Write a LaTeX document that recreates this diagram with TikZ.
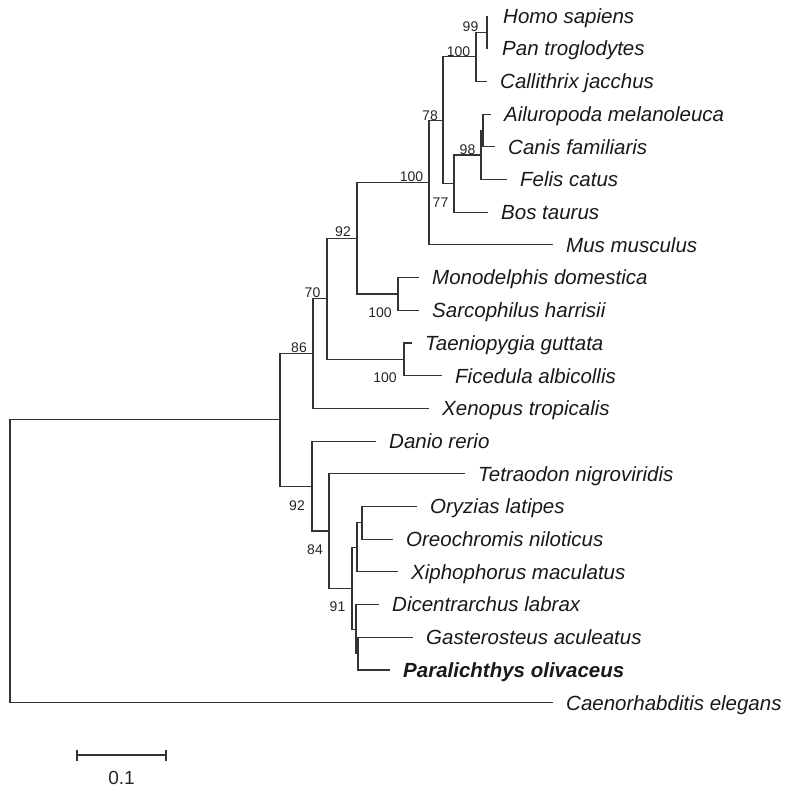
\documentclass[tikz,border=0pt]{standalone}
\usepackage{fontspec}
\setmainfont{Liberation Sans}
\begin{document}
\begin{tikzpicture}[x=1pt,y=-1pt,
  br/.style={draw=black!80, line width=1.1pt},
  leaf/.style={anchor=base west, inner sep=0pt, xshift=13pt, yshift=-7.3pt,
    font=\fontsize{20.5}{24}\selectfont\itshape, text=black!90},
  boot/.style={anchor=center, inner sep=0pt, font=\fontsize{14}{16}\selectfont, text=black!85}]
\useasboundingbox (0,0) rectangle (797,792);
% tips
\coordinate (homo) at (487,16);
\coordinate (pan) at (487,48.7);
\coordinate (call) at (487,81.4);
\coordinate (ailu) at (491,114.1);
\coordinate (canis) at (495,146.8);
\coordinate (felis) at (507,179.5);
\coordinate (bos) at (488,212.2);
\coordinate (mus) at (553,244.9);
\coordinate (mono) at (419,277.6);
\coordinate (sarc) at (419,310.3);
\coordinate (taen) at (412,343);
\coordinate (fice) at (442,375.7);
\coordinate (xeno) at (429,408.4);
\coordinate (danio) at (376,441.1);
\coordinate (tetra) at (465,473.8);
\coordinate (oryz) at (417,506.5);
\coordinate (oreo) at (393,539.2);
\coordinate (xiph) at (398,571.9);
\coordinate (dicen) at (379,604.6);
\coordinate (gast) at (413,637.3);
\coordinate (para) at (390,670);
\coordinate (caen) at (553,702.7);
% internal nodes
\coordinate (nA) at (487,32.35);
\coordinate (nB) at (476,56.9);
\coordinate (nC) at (483,130.45);
\coordinate (nD) at (481,155);
\coordinate (nE) at (454,183.6);
\coordinate (nF) at (443,120.25);
\coordinate (nG) at (429,182.6);
\coordinate (nH) at (398,294);
\coordinate (nI) at (357,238.3);
\coordinate (nJ) at (404,359.35);
\coordinate (nK) at (327,298.8);
\coordinate (nL) at (313,353.6);
\coordinate (nM) at (362,522.85);
\coordinate (nN) at (357,547.4);
\coordinate (nO) at (358,653.65);
\coordinate (nP) at (356,629.1);
\coordinate (nQ) at (352,588.25);
\coordinate (nR) at (329,531);
\coordinate (nS) at (312,486.05);
\coordinate (nT) at (280,419.8);
\coordinate (root) at (10,561.25);
% branches
\draw[br] (nA) |- (homo); \draw[br] (nA) |- (pan);
\draw[br] (nB) |- (nA); \draw[br] (nB) |- (call);
\draw[br] (nC) |- (ailu); \draw[br] (nC) |- (canis);
\draw[br] (nD) |- (nC); \draw[br] (nD) |- (felis);
\draw[br] (nE) |- (nD); \draw[br] (nE) |- (bos);
\draw[br] (nF) |- (nB); \draw[br] (nF) |- (nE);
\draw[br] (nG) |- (nF); \draw[br] (nG) |- (mus);
\draw[br] (nH) |- (mono); \draw[br] (nH) |- (sarc);
\draw[br] (nI) |- (nG); \draw[br] (nI) |- (nH);
\draw[br] (nJ) |- (taen); \draw[br] (nJ) |- (fice);
\draw[br] (nK) |- (nI); \draw[br] (nK) |- (nJ);
\draw[br] (nL) |- (nK); \draw[br] (nL) |- (xeno);
\draw[br] (nM) |- (oryz); \draw[br] (nM) |- (oreo);
\draw[br] (nN) |- (nM); \draw[br] (nN) |- (xiph);
\draw[br] (nO) |- (gast); \draw[br] (nO) |- (para);
\draw[br] (nP) |- (dicen); \draw[br] (nP) |- (nO);
\draw[br] (nQ) |- (nN); \draw[br] (nQ) |- (nP);
\draw[br] (nR) |- (tetra); \draw[br] (nR) |- (nQ);
\draw[br] (nS) |- (danio); \draw[br] (nS) |- (nR);
\draw[br] (nT) |- (nL); \draw[br] (nT) |- (nS);
\draw[br] (root) |- (nT); \draw[br] (root) |- (caen);
% leaf labels
\node[leaf, xshift=3pt] (thomo) at (homo) {Homo sapiens};
\node[leaf, xshift=2pt] (tpan) at (pan) {Pan troglodytes};
\node[leaf] (tcall) at (call) {Callithrix jacchus};
\node[leaf] (tailu) at (ailu) {Ailuropoda melanoleuca};
\node[leaf] (tcanis) at (canis) {Canis familiaris};
\node[leaf] (tfelis) at (felis) {Felis catus};
\node[leaf] (tbos) at (bos) {Bos taurus};
\node[leaf] (tmus) at (mus) {Mus musculus};
\node[leaf] (tmono) at (mono) {Monodelphis domestica};
\node[leaf] (tsarc) at (sarc) {Sarcophilus harrisii};
\node[leaf] (ttaen) at (taen) {Taeniopygia guttata};
\node[leaf] (tfice) at (fice) {Ficedula albicollis};
\node[leaf] (txeno) at (xeno) {Xenopus tropicalis};
\node[leaf] (tdanio) at (danio) {Danio rerio};
\node[leaf] (ttetra) at (tetra) {Tetraodon nigroviridis};
\node[leaf] (toryz) at (oryz) {Oryzias latipes};
\node[leaf] (toreo) at (oreo) {Oreochromis niloticus};
\node[leaf] (txiph) at (xiph) {Xiphophorus maculatus};
\node[leaf] (tdicen) at (dicen) {Dicentrarchus labrax};
\node[leaf] (tgast) at (gast) {Gasterosteus aculeatus};
\node[leaf, font=\fontsize{20.5}{24}\selectfont\itshape\bfseries] (tpara) at (para) {Paralichthys olivaceus};
\node[leaf] (tcaen) at (caen) {Caenorhabditis elegans};
% bootstrap values
\node[boot] (b99) at (470.5,27) {99};
\node[boot] (b100a) at (458.5,51.7) {100};
\node[boot] (b78) at (430,116) {78};
\node[boot] (b98) at (467.5,150) {98};
\node[boot] (b77) at (440.5,203) {77};
\node[boot] (b100b) at (411.5,176.5) {100};
\node[boot] (b92a) at (343,231.5) {92};
\node[boot] (b100c) at (380,313) {100};
\node[boot] (b70) at (312.5,293) {70};
\node[boot] (b100d) at (385,378) {100};
\node[boot] (b86) at (299,348) {86};
\node[boot] (b92b) at (297,506) {92};
\node[boot] (b84) at (315,550) {84};
\node[boot] (b91) at (337.5,607) {91};
% scale bar
\coordinate (sb1) at (77,755);
\coordinate (sb2) at (166,755);
\draw[br] (sb1) -- (sb2);
\draw[br] ([yshift=5.5pt]sb1) -- ([yshift=-5.5pt]sb1);
\draw[br] ([yshift=5.5pt]sb2) -- ([yshift=-5.5pt]sb2);
\node[anchor=center, inner sep=0pt, font=\fontsize{19}{22}\selectfont, text=black!85] (sblabel) at (121.5,778) {0.1};
\end{tikzpicture}
\end{document}
